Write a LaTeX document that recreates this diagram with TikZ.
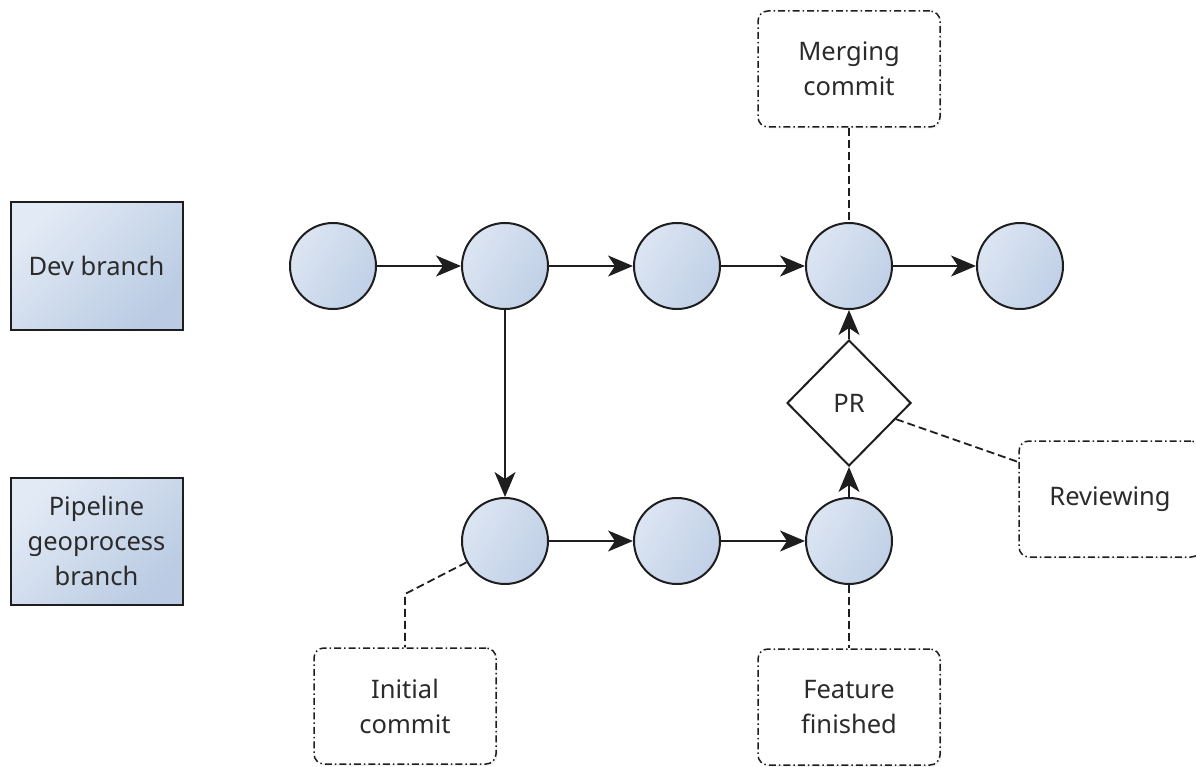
\documentclass[tikz,border=0pt]{standalone}
\usepackage{fontspec}
\setmainfont{Noto Sans}
\usetikzlibrary{arrows.meta,shapes.geometric,shadows}
\definecolor{txt}{HTML}{2B2B2B}
\definecolor{edge}{HTML}{1E1E1E}
\definecolor{fillA}{HTML}{E2EAF5}
\definecolor{fillB}{HTML}{BACBE3}
\definecolor{dotA}{HTML}{DCE5F2}
\definecolor{dotB}{HTML}{C0D0E7}
\tikzset{
  lbl/.style={font=\fontsize{25.5}{35}\selectfont, text=txt, align=center},
  branchbox/.style={lbl, draw=edge, line width=2pt, minimum width=172pt, minimum height=127pt,
    inner sep=0pt, top color=fillA, bottom color=fillB, shading angle=45,
    drop shadow={opacity=0.18, shadow xshift=1.5pt, shadow yshift=-1.5pt}},
  commit/.style={circle, draw=edge, line width=2pt, minimum size=86pt, inner sep=0pt,
    top color=dotA, bottom color=dotB, shading angle=60},
  note/.style={lbl, draw=edge, line width=1.5pt, rounded corners=10pt, fill=white,
    dash pattern=on 7pt off 3pt on 1.5pt off 3pt,
    minimum width=182pt, minimum height=116pt, inner sep=0pt,
    drop shadow={opacity=0.12, shadow xshift=1.5pt, shadow yshift=-1.5pt}},
  gate/.style={lbl, diamond, draw=edge, line width=2pt, fill=white, inner sep=0pt,
    minimum width=124pt, minimum height=126pt},
  flow/.style={draw=edge, line width=2pt, -{Stealth[length=25pt, width=21pt, inset=7pt]}},
  link/.style={draw=edge, line width=1.8pt, dash pattern=on 8pt off 4pt}
}
\begin{document}
\begin{tikzpicture}[x=1pt, y=-1pt]
\useasboundingbox (0,0) rectangle (1196,767);
\clip (0,0) rectangle (1196,767);

% branch labels
\node[branchbox] (dev) at (96.5,266) {Dev branch};
\node[branchbox] (pipe) at (96.5,541) {Pipeline\\geoprocess\\branch};

% dev branch commits
\node[commit] (d1) at (333,266) {};
\node[commit] (d2) at (505,266) {};
\node[commit] (d3) at (677,266) {};
\node[commit] (d4) at (849,266) {};
\node[commit] (d5) at (1020,266) {};

% feature branch commits
\node[commit] (p1) at (505,541) {};
\node[commit] (p2) at (677,541) {};
\node[commit] (p3) at (849,541) {};

% pull request
\node[gate] (pr) at (849,403) {PR};

% annotations
\node[note] (merge) at (849,69) {Merging\\commit};
\node[note] (review) at (1110,499) {Reviewing};
\node[note] (init) at (405,706) {Initial\\commit};
\node[note] (done) at (849,707) {Feature\\finished};

% history arrows
\draw[flow] (d1) -- (d2);
\draw[flow] (d2) -- (d3);
\draw[flow] (d3) -- (d4);
\draw[flow] (d4) -- (d5);
\draw[flow] (d2) -- (p1);
\draw[flow] (p1) -- (p2);
\draw[flow] (p2) -- (p3);
\draw[flow] (p3) -- (pr);
\draw[flow] (pr) -- (d4);

% annotation links
\coordinate (initbend) at (405,594);
\draw[link] (merge.south) -- (d4.north);
\draw[link] (pr.-19) -- ([yshift=37pt]review.west);
\draw[link] (p1.209) -- (initbend) -- (init.north);
\draw[link] (p3.south) -- (done.north);
\end{tikzpicture}
\end{document}
